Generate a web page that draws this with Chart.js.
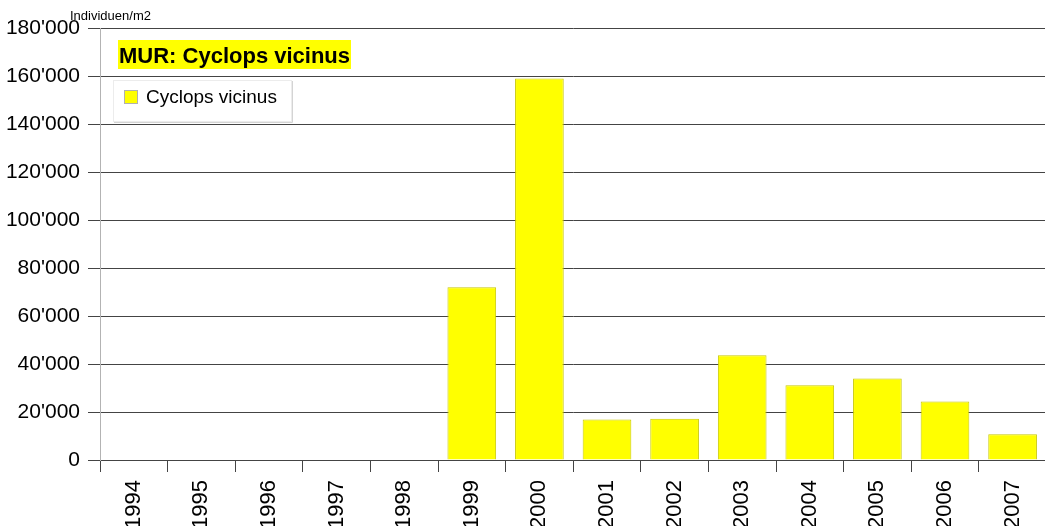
<!DOCTYPE html>
<html>
<head>
<meta charset="utf-8">
<script src="https://cdn.jsdelivr.net/npm/chart.js@4/dist/chart.umd.min.js"></script>
<style>
  html, body { margin: 0; padding: 0; background: #fff; overflow: hidden; }
  #wrap { width: 1045px; height: 526px; overflow: hidden; }
</style>
</head>
<body>
<div id="wrap"><canvas id="myChart" width="1047" height="526"></canvas></div>
<script>
// Jahre und Werte (Individuen/m2)
var years = ['1994', '1995', '1996', '1997', '1998', '1999', '2000', '2001', '2002', '2003', '2004', '2005', '2006', '2007'];
var cyclopsValues = [0, 0, 0, 0, 0, 72000, 159000, 16900, 17200, 43600, 31100, 34000, 24400, 10700];
var seriesLabel = 'Cyclops vicinus';
var chartTitle = 'MUR: Cyclops vicinus';
var unitLabel = 'Individuen/m2';
var yTicks = [0, 20000, 40000, 60000, 80000, 100000, 120000, 140000, 160000, 180000];

function formatThousands(v) {
    return String(v).replace(/\B(?=(\d{3})+(?!\d))/g, "'");
}

// Titel, Einheit und Legende selber zeichnen
var decorPlugin = {
    id: 'decor',
    afterDraw: function (chart) {
        var ctx = chart.ctx;
        ctx.save();

        // Einheit oben links
        ctx.fillStyle = '#000';
        ctx.font = '13px "Liberation Sans", Arial, sans-serif';
        ctx.textBaseline = 'alphabetic';
        ctx.textAlign = 'left';
        ctx.fillText(unitLabel, 70, 20);

        // Titel mit gelbem Hintergrund
        ctx.fillStyle = '#ffff00';
        ctx.fillRect(118, 40, 233, 29);
        ctx.fillStyle = '#000';
        ctx.font = 'bold 22px "Liberation Sans", Arial, sans-serif';
        ctx.fillText(chartTitle, 119, 63);

        // Legende
        ctx.fillStyle = '#fff';
        ctx.fillRect(113, 80, 179, 42);
        ctx.strokeStyle = '#ececec';
        ctx.lineWidth = 1;
        ctx.strokeRect(113.5, 80.5, 178, 41);
        ctx.strokeStyle = '#d4d4d4';
        ctx.beginPath();
        ctx.moveTo(292.5, 81);
        ctx.lineTo(292.5, 122.5);
        ctx.lineTo(114, 122.5);
        ctx.stroke();

        var ds = chart.data.datasets[0];
        ctx.fillStyle = ds.backgroundColor;
        ctx.fillRect(124, 90, 14, 14);
        ctx.strokeStyle = '#b0b0b0';
        ctx.strokeRect(124.5, 90.5, 13, 13);
        ctx.fillStyle = '#000';
        ctx.font = '19px "Liberation Sans", Arial, sans-serif';
        ctx.textBaseline = 'middle';
        ctx.fillText(ds.label, 146, 98);

        ctx.restore();
    }
};

var ctx = document.getElementById('myChart').getContext('2d');
var myChart = new Chart(ctx, {
    type: 'bar',
    data: {
        labels: years,
        datasets: [{
            label: seriesLabel,
            data: cyclopsValues,
            backgroundColor: '#ffff00',
            borderColor: '#c8c800',
            borderWidth: 1,
            barPercentage: 0.72,
            categoryPercentage: 1.0
        }]
    },
    options: {
        responsive: false,
        animation: false,
        devicePixelRatio: 1,
        layout: { padding: { top: 28, right: 0, left: 0, bottom: 0 } },
        plugins: {
            legend: { display: false },
            title: { display: false },
            tooltip: { enabled: false }
        },
        scales: {
            x: {
                grid: {
                    offset: true,
                    drawOnChartArea: false,
                    drawTicks: true,
                    tickLength: 12,
                    color: '#444'
                },
                border: { display: true, color: '#444' },
                ticks: {
                    minRotation: 90,
                    maxRotation: 90,
                    padding: 8,
                    color: '#000',
                    font: { family: '"Liberation Sans", Arial, sans-serif', size: 22 }
                },
                afterFit: function (axis) { axis.height = 66; }
            },
            y: {
                min: 0,
                max: 180000,
                afterBuildTicks: function (axis) {
                    axis.ticks = yTicks.map(function (v) { return { value: v }; });
                },
                grid: {
                    color: '#444',
                    tickLength: 12,
                    drawTicks: true
                },
                border: { display: true, color: '#b3b3b3' },
                ticks: {
                    padding: 8,
                    color: '#000',
                    font: { family: '"Liberation Sans", Arial, sans-serif', size: 21 },
                    callback: function (v) { return formatThousands(v); }
                },
                afterFit: function (axis) { axis.width = 100; }
            }
        }
    },
    plugins: [decorPlugin]
});
</script>
</body>
</html>
